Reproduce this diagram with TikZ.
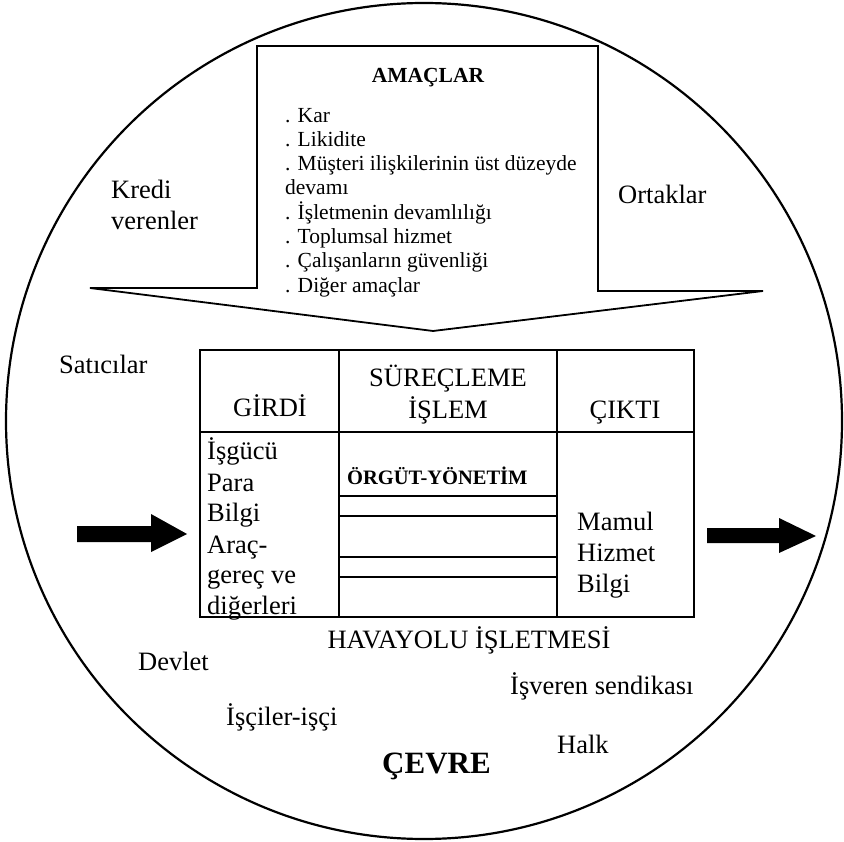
\documentclass[tikz,border=0pt]{standalone}
\usepackage{fontspec}
\setmainfont{Liberation Serif}
\begin{document}
\begin{tikzpicture}[x=1pt,y=-1pt,
  big/.style={inner sep=0pt,font=\fontsize{26.5}{31}\selectfont},
  bw/.style={big,anchor=base west},
  bc/.style={big,anchor=base},
  item/.style={inner sep=0pt,anchor=base west,font=\fontsize{21.5}{24}\selectfont},
  frame/.style={line width=1.8pt,line join=miter},
  thin/.style={line width=1.5pt},
  fat/.style={fill=black,draw=none}]
\useasboundingbox (0,0) rectangle (844,842);
% environment circle
\draw[line width=2.2pt] (424,421) circle[radius=418pt];
% goals block arrow
\draw[frame] (257,46) -- (598,46) -- (598,291) -- (763,291) -- (433,331) -- (90,288) -- (257,288) -- cycle;
\node[inner sep=0pt,anchor=base,font=\fontsize{21.5}{24}\bfseries\selectfont] (amaclar) at (428,83) {AMAÇLAR};
\node[item] (i1) at (285,123) {. Kar};
\node[item] (i2) at (285,147) {. Likidite};
\node[item] (i3) at (285,171) {. Müşteri ilişkilerinin üst düzeyde};
\node[item] (i4) at (285,195) {devamı};
\node[item] (i5) at (285,220) {. İşletmenin devamlılığı};
\node[item] (i6) at (285,244) {. Toplumsal hizmet};
\node[item] (i7) at (285,268) {. Çalışanların güvenliği};
\node[item] (i8) at (285,293) {. Diğer amaçlar};
% stakeholders
\node[bw] (kredi) at (111,199) {Kredi};
\node[bw] (veren) at (111,230) {verenler};
\node[bw] (ortak) at (618,204) {Ortaklar};
\node[bw] (satici) at (59,374) {Satıcılar};
% table
\draw[frame] (200,350) rectangle (694,617);
\draw[thin] (200,432) -- (694,432);
\draw[thin] (339,350) -- (339,617);
\draw[thin] (557,350) -- (557,617);
\draw[thin] (339,496) -- (557,496);
\draw[thin] (339,516) -- (557,516);
\draw[thin] (339,557) -- (557,557);
\draw[thin] (339,577) -- (557,577);
\node[bc] (girdi) at (270,417) {GİRDİ};
\node[bc] (surec) at (448,387) {SÜREÇLEME};
\node[bc] (islem) at (448,418) {İŞLEM};
\node[bc] (cikti) at (625,419) {ÇIKTI};
\node[bw] (g1) at (207,460) {İşgücü};
\node[bw] (g2) at (207,491) {Para};
\node[bw] (g3) at (207,521) {Bilgi};
\node[bw] (g4) at (207,553) {Araç-};
\node[bw] (g5) at (207,583) {gereç ve};
\node[bw] (g6) at (207,614) {diğerleri};
\node[inner sep=0pt,anchor=base west,font=\fontsize{20.5}{24}\bfseries\selectfont] (orgut) at (347,484) {ÖRGÜT-YÖNETİM};
\node[bw] (c1) at (577,530) {Mamul};
\node[bw] (c2) at (577,561) {Hizmet};
\node[bw] (c3) at (577,592) {Bilgi};
\node[bc] (havayolu) at (469,648) {HAVAYOLU İŞLETMESİ};
% input / output arrows
\fill[fat] (77,526) -- (151,526) -- (151,514) -- (187,534) -- (151,552) -- (151,542) -- (77,542) -- cycle;
\fill[fat] (707,528) -- (779,528) -- (779,518) -- (816,536) -- (779,553) -- (779,543) -- (707,543) -- cycle;
% environment labels
\node[bw] (devlet) at (138,670) {Devlet};
\node[bw] (isveren) at (510,694) {İşveren sendikası};
\node[bw] (isciler) at (226,725) {İşçiler-işçi};
\node[bw] (halk) at (557,753) {Halk};
\node[inner sep=0pt,anchor=base west,font=\fontsize{31}{36}\bfseries\selectfont] (cevre) at (382,773) {ÇEVRE};
\end{tikzpicture}
\end{document}
